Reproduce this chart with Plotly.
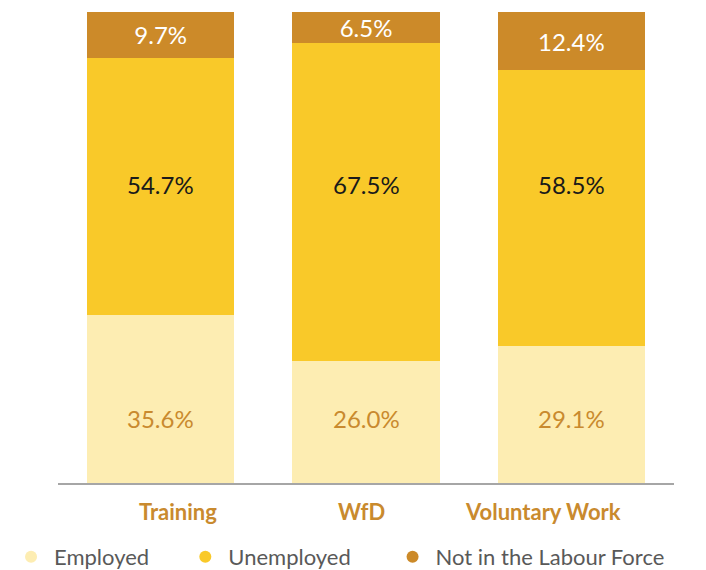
import plotly.graph_objects as go

categories = ["Training", "WfD", "Voluntary Work"]
employed = [35.6, 26.0, 29.1]
unemployed = [54.7, 67.5, 58.5]
not_in_lf = [9.7, 6.5, 12.4]
series_names = ["Employed", "Unemployed", "Not in the Labour Force"]

colors = ["#FDEDB2", "#F9C929", "#CC8A29"]
text_colors = ["#C98A2E", "#1A1A1A", "#FFFFFF"]
# label placement style: fixed label level (in % units) for lower two series, None = centred
label_levels = [13.8, 63.3, None]
label_shift = [17, -5, -28]
legend_pad = [5, 6, 0]
FONT = "Lato"
NB = "\u00a0"

fig = go.Figure()
for name, vals, col, tcol, lvl, pad in zip(series_names, [employed, unemployed, not_in_lf],
                                           colors, text_colors, label_levels, legend_pad):
    texts = [f"{v:.1f}%" for v in vals]
    fig.add_trace(go.Bar(
        x=categories, y=vals, name=name, marker=dict(color=col, line=dict(width=0)),
        text=texts if lvl is None else None,
        textposition="inside", insidetextanchor="middle",
        textangle=0, textfont=dict(color=tcol, size=24, family=FONT), showlegend=False,
        constraintext="none", hoverinfo="y+name",
    ))
    if lvl is not None:
        for cat, t in zip(categories, texts):
            fig.add_annotation(x=cat, y=lvl, xref="x", yref="y", text=t, showarrow=False,
                               font=dict(family=FONT, size=24, color=tcol))
    fig.add_trace(go.Scatter(
        x=[None], y=[None], mode="markers", name=name + NB * pad,
        marker=dict(symbol="circle", size=16, color=col),
    ))

for cat, dx in zip(categories, label_shift):
    fig.add_annotation(x=cat, y=0, yref="y", xref="x", text=f"<b>{cat}</b>", showarrow=False,
                       yshift=-28, xshift=dx, font=dict(family=FONT, size=22, color="#C98A2E"))

fig.update_layout(
    barmode="stack", bargap=0.284,
    width=706, height=570,
    margin=dict(l=50, r=40, t=0, b=95),
    paper_bgcolor="white", plot_bgcolor="white",
    font=dict(family=FONT, size=22, color="#595959"),
    legend=dict(orientation="h", x=-0.0811, xanchor="left",
                y=-0.1998, yanchor="bottom", traceorder="normal", itemwidth=36,
                font=dict(family=FONT, size=22, color="#595959"), itemsizing="constant",
                bgcolor="rgba(0,0,0,0)"),
    xaxis=dict(showticklabels=False, showline=True, linecolor="#A6A6A6", linewidth=2,
               ticks="", showgrid=False, zeroline=False),
    yaxis=dict(range=[0, 100.85], visible=False, showgrid=False, zeroline=False),
)

fig.write_html("out.html")
